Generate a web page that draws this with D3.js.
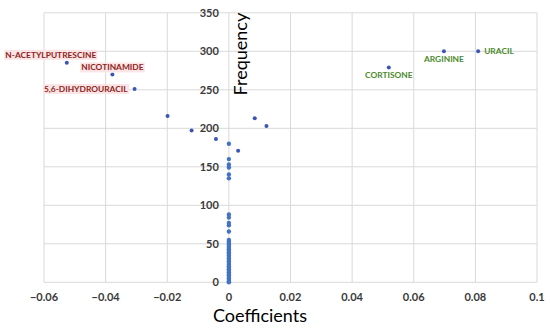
<!DOCTYPE html>
<html>
<head>
<meta charset="utf-8">
<script src="https://cdn.jsdelivr.net/npm/d3@7"></script>
<style>
  body { margin: 0; background: #fff; }
  svg { display: block; font-family: Lato, "Open Sans", sans-serif; }
  .grid line { stroke: #d9d9d9; stroke-width: 1; }
  .tick-label { font-size: 11px; font-weight: bold; fill: #3a3a3a; }
  .lbl { font-size: 8.4px; font-weight: bold; }
</style>
</head>
<body>
<div class="chart"></div>
<script>
// named points (coefficient, frequency)
const namedNames = ["N-ACETYLPUTRESCINE", "NICOTINAMIDE", "5,6-DIHYDROURACIL", "CORTISONE", "ARGININE", "URACIL"];
const namedCoef = [-0.0526, -0.0378, -0.0306, 0.0519, 0.0698, 0.0809];
const namedFreq = [285, 270, 251, 279, 300, 300];
const namedGroup = ["neg", "neg", "neg", "pos", "pos", "pos"];
const namedPlace = ["aboveLeft", "above", "left", "below", "below", "right"];

// other scattered points
const otherCoef = [-0.0199, -0.0121, -0.0042, 0.0084, 0.0122, 0.003];
const otherFreq = [216, 197, 186, 213, 203, 171];

// points at coefficient 0
const zeroFreq = [180, 160, 153, 149, 140, 135, 88, 84, 77, 74, 66,
  55, 53, 51, 49, 47, 45, 43, 41, 39, 37, 35, 33, 31, 29, 27, 25, 23, 21,
  19, 17, 15, 13, 11, 9, 7, 5, 3, 1, 0];

const xTicks = [-0.06, -0.04, -0.02, 0, 0.02, 0.04, 0.06, 0.08, 0.1];
const yTicks = [0, 50, 100, 150, 200, 250, 300, 350];

const width = 550, height = 330;
const x = d3.scaleLinear().domain([-0.06, 0.1]).range([44, 537]);
const y = d3.scaleLinear().domain([0, 350]).range([282.3, 12.8]);

const svg = d3.select(".chart").append("svg")
  .attr("width", width).attr("height", height);

// grid
const grid = svg.append("g").attr("class", "grid");
grid.selectAll(".h").data(yTicks).enter().append("line")
  .attr("x1", x(-0.06)).attr("x2", x(0.1))
  .attr("y1", d => y(d)).attr("y2", d => y(d));
grid.selectAll(".v").data(xTicks).enter().append("line")
  .attr("y1", y(0)).attr("y2", y(350))
  .attr("x1", d => x(d)).attr("x2", d => x(d));

// tick labels
svg.selectAll(".xt").data(xTicks).enter().append("text")
  .attr("class", "tick-label")
  .attr("x", d => x(d)).attr("y", 301)
  .attr("text-anchor", "middle")
  .text(d => d3.format("")(d));
svg.selectAll(".yt").data(yTicks).enter().append("text")
  .attr("class", "tick-label")
  .attr("x", x(0) - 10).attr("y", d => y(d) + 4)
  .attr("text-anchor", "end")
  .text(d => d);

// axis titles
svg.append("text")
  .attr("x", 260).attr("y", 322)
  .attr("text-anchor", "middle")
  .style("font-size", "18px").style("fill", "#000")
  .text("Coefficients");
svg.append("text")
  .attr("transform", `translate(${x(0) + 18},${y(350)}) rotate(-90)`)
  .attr("text-anchor", "end")
  .style("font-size", "18px").style("fill", "#000")
  .text("Frequency");

// points
const dotColor = "#3a55b4";
const pts = svg.append("g");
pts.selectAll(".z").data(zeroFreq).enter().append("circle")
  .attr("cx", x(0)).attr("cy", d => y(d)).attr("r", 2.2)
  .attr("fill", "#4472c4");
pts.selectAll(".o").data(otherCoef).enter().append("circle")
  .attr("cx", d => x(d)).attr("cy", (d, i) => y(otherFreq[i])).attr("r", 2)
  .attr("fill", dotColor);
pts.selectAll(".n").data(namedCoef).enter().append("circle")
  .attr("cx", d => x(d)).attr("cy", (d, i) => y(namedFreq[i])).attr("r", 2)
  .attr("fill", dotColor);

// labels
const labels = svg.append("g");
namedNames.forEach((name, i) => {
  const px = x(namedCoef[i]), py = y(namedFreq[i]);
  let tx = px, ty = py, anchor = "middle";
  const place = namedPlace[i];
  if (place === "aboveLeft") { tx = px - 16; ty = py - 8; }
  else if (place === "above") { ty = py - 7; }
  else if (place === "left") { tx = px - 7; anchor = "end"; }
  else if (place === "below") { ty = py + 8; }
  else if (place === "right") { tx = px + 6; anchor = "start"; }
  const neg = namedGroup[i] === "neg";
  const t = labels.append("text")
    .attr("class", "lbl")
    .attr("x", tx).attr("y", ty + 3)
    .attr("text-anchor", anchor)
    .attr("fill", neg ? "#8e2419" : "#4a8a2c")
    .text(name);
  if (neg) {
    const b = t.node().getBBox();
    labels.insert("rect", "text")
      .attr("x", b.x - 1).attr("y", b.y)
      .attr("width", b.width + 2).attr("height", b.height)
      .attr("fill", "#fbe4e6");
  }
});
</script>
</body>
</html>
